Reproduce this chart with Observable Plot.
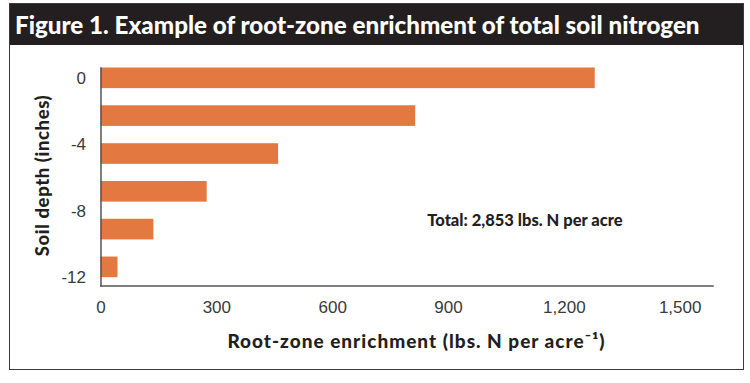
<!DOCTYPE html>
<html>
<head>
<meta charset="utf-8">
<script src="https://cdn.jsdelivr.net/npm/d3@7"></script>
<script src="https://cdn.jsdelivr.net/npm/@observablehq/plot@0.6"></script>
<style>
  html, body { margin: 0; padding: 0; background: #ffffff; }
  #wrap {
    position: absolute; left: 9px; top: 3px; width: 735px; height: 367px;
    border: 1.5px solid #3a3a3a; box-sizing: border-box; background: #fff;
  }
  #title {
    height: 41px; background: #231f20; color: #ffffff;
    font-family: Lato, "Open Sans", sans-serif; font-weight: 900; font-size: 24.2px;
    line-height: 42px; padding-left: 5px; white-space: nowrap;
  }
  #chart svg { display: block; }
</style>
</head>
<body>
<div id="wrap">
  <div id="title"></div>
  <div id="chart"></div>
</div>
<script>
// Data
const depthInches = [0, -2.27, -4.55, -6.82, -9.09, -11.36];
const enrichment = [1280, 815, 460, 275, 137, 44];
const xTicks = [0, 300, 600, 900, 1200, 1500];
const yTicks = [0, -4, -8, -12];
const titleText = "Figure 1. Example of root-zone enrichment of total soil nitrogen";
const xLabel = "Root-zone enrichment (lbs. N per acre\u207B\u00B9)";
const yLabel = "Soil depth (inches)";
const totalNote = "Total: 2,853 lbs. N per acre";

document.getElementById("title").textContent = titleText;

const rows = depthInches.map((d, i) => ({depth: d, value: enrichment[i]}));
const half = 0.62;

const tickFont = '"Liberation Sans", Arial, sans-serif';
const boldFont = 'Lato, "Open Sans", sans-serif';

const chart = Plot.plot({
  width: 732,
  height: 322,
  marginLeft: 90.5,
  marginRight: 29.5,
  marginTop: 22.5,
  marginBottom: 81.5,
  style: {background: "#ffffff", overflow: "visible"},
  x: {domain: [0, 1585], ticks: xTicks, label: null},
  y: {domain: [-12.48, 0.62], ticks: yTicks, label: null},
  marks: [
    Plot.rectX(rows, {x1: 0, x2: "value", y1: d => d.depth - half, y2: d => d.depth + half, fill: "#e37841"}),
    Plot.axisX({ticks: xTicks, tickFormat: d3.format(","), tickSize: 0, tickPadding: 15, fontSize: 17, fontFamily: tickFont, fill: "#3a3a3a", label: null}),
    Plot.axisY({ticks: yTicks, tickFormat: d => `${d}`, tickSize: 0, tickPadding: 15, fontSize: 17, fontFamily: tickFont, fill: "#3a3a3a", label: null}),
    Plot.frame({anchor: "left", stroke: "#555555", strokeWidth: 1.5}),
    Plot.frame({anchor: "bottom", stroke: "#555555", strokeWidth: 1.5}),
    Plot.text([yLabel], {frameAnchor: "left", dx: -58, dy: -1.5, rotate: -90, textAnchor: "middle", lineAnchor: "middle", fontSize: 18.5, fontWeight: 900, fontFamily: boldFont, fill: "#231f20"}),
    Plot.text([xLabel], {frameAnchor: "bottom", dx: 9.5, dy: 56, textAnchor: "middle", lineAnchor: "middle", fontSize: 19, fontWeight: 900, fontFamily: boldFont, fill: "#231f20"}),
    Plot.text([totalNote], {x: () => 845, y: () => -8.55, textAnchor: "start", lineAnchor: "middle", fontSize: 16.5, fontWeight: 900, fontFamily: boldFont, fill: "#231f20"})
  ]
});
// letter spacing for the bold annotations (styling only)
d3.select(chart).selectAll("text").filter(function() { return this.textContent === xLabel; }).style("letter-spacing", "1px");
d3.select(chart).selectAll("text").filter(function() { return this.textContent === yLabel; }).style("letter-spacing", "0.6px");
document.getElementById("chart").appendChild(chart);
</script>
</body>
</html>
